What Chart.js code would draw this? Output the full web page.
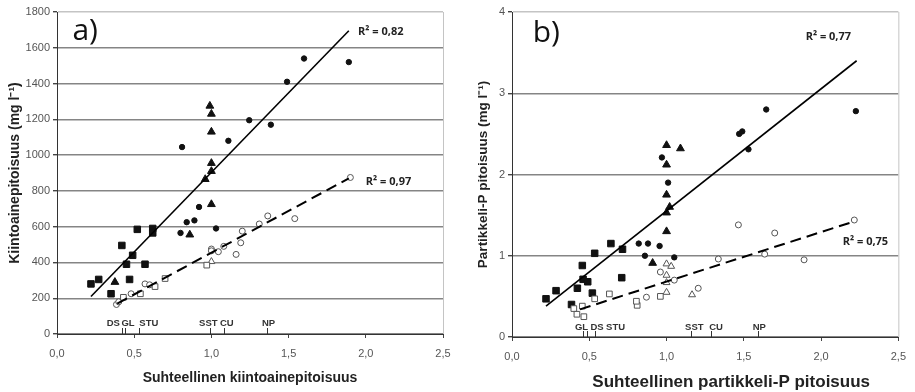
<!DOCTYPE html>
<html>
<head>
<meta charset="utf-8">
<script src="https://cdn.jsdelivr.net/npm/chart.js@4.4.0/dist/chart.umd.min.js"></script>
<style>
    body { margin: 0; background: #fff; }
    #wrap { position: relative; width: 915px; height: 392px; }
    .panel { position: absolute; top: 0; height: 392px; }
    #panelA { left: 0; width: 460px; }
    #panelB { left: 460px; width: 455px; }
</style>
</head>
<body>
<div id="wrap">
    <div class="panel" id="panelA"><canvas id="chartA"></canvas></div>
    <div class="panel" id="panelB"><canvas id="chartB"></canvas></div>
</div>
<script>
// ---- panel a) kiintoaine ----
const aSquareX = [0.22, 0.27, 0.35, 0.42, 0.45, 0.47, 0.49, 0.52, 0.57, 0.62, 0.62];
const aSquareY = [280, 305, 225, 495, 390, 305, 440, 585, 390, 590, 565];
const aTriX = [0.375, 0.86, 0.96, 1.00, 1.00, 1.00, 1.00, 0.99, 1.00];
const aTriY = [290, 555, 865, 910, 955, 1130, 1230, 1275, 725];
const aCircX = [0.80, 0.84, 0.89, 0.92, 1.03, 0.81, 1.11, 1.245, 1.385, 1.49, 1.60, 1.89];
const aCircY = [565, 625, 635, 710, 590, 1045, 1080, 1195, 1170, 1410, 1540, 1520];
const aOpenSquareX = [0.43, 0.54, 0.635, 0.70, 0.97];
const aOpenSquareY = [205, 225, 265, 310, 385];
const aOpenTriX = [1.00];
const aOpenTriY = [405];
const aOpenCircX = [0.385, 0.40, 0.48, 0.57, 0.60, 1.00, 1.00, 1.045, 1.08, 1.16, 1.19, 1.20, 1.31, 1.365, 1.54, 1.90];
const aOpenCircY = [165, 180, 225, 280, 275, 475, 465, 460, 490, 445, 510, 575, 615, 660, 645, 875];
const aTrendX = [0.22, 1.89];
const aTrendY = [210, 1695];
const aTrendOpenX = [0.39, 1.89];
const aTrendOpenY = [170, 870];
const aR2 = ['R² = 0,82', 'R² = 0,97'];
const aCatNames = ['DS', 'GL', 'STU', 'SST', 'CU', 'NP'];
const aCatTicks = [0.42, 0.44, 0.53, 0.99, 1.08, 1.36];
const aCatLabelX = [0.365, 0.46, 0.595, 0.98, 1.10, 1.37];

// ---- panel b) partikkeli-P ----
const bSquareX = [0.22, 0.285, 0.385, 0.423, 0.455, 0.46, 0.49, 0.52, 0.535, 0.64, 0.715, 0.71];
const bSquareY = [0.47, 0.57, 0.40, 0.60, 0.88, 0.71, 0.68, 0.54, 1.03, 1.15, 1.08, 0.73];
const bTriX = [0.91, 1.00, 1.00, 1.02, 1.00, 1.00, 1.00, 1.09];
const bTriY = [0.91, 1.30, 1.53, 1.60, 1.75, 2.12, 2.36, 2.32];
const bCircX = [0.82, 0.88, 0.86, 0.955, 1.05, 1.01, 0.97, 1.47, 1.49, 1.53, 1.645, 2.225];
const bCircY = [1.15, 1.15, 1.00, 1.12, 0.98, 1.90, 2.21, 2.50, 2.53, 2.31, 2.80, 2.78];
const bOpenSquareX = [0.40, 0.42, 0.465, 0.455, 0.535, 0.63, 0.81, 0.805, 0.96];
const bOpenSquareY = [0.35, 0.28, 0.25, 0.38, 0.47, 0.53, 0.39, 0.44, 0.50];
const bOpenTriX = [1.00, 1.03, 1.00, 1.00, 1.00, 1.165];
const bOpenTriY = [0.90, 0.87, 0.76, 0.67, 0.55, 0.52];
const bOpenCircX = [0.87, 0.96, 1.05, 1.205, 1.335, 1.465, 1.635, 1.70, 1.89, 2.215];
const bOpenCircY = [0.49, 0.80, 0.70, 0.60, 0.96, 1.38, 1.02, 1.28, 0.95, 1.44];
const bTrendX = [0.22, 2.23];
const bTrendY = [0.38, 3.40];
const bTrendOpenX = [0.44, 2.21];
const bTrendOpenY = [0.34, 1.42];
const bR2 = ['R² = 0,77', 'R² = 0,75'];
const bCatNames = ['GL', 'DS', 'STU', 'SST', 'CU', 'NP'];
const bCatTicks = [0.46, 0.485, 0.54, 1.16, 1.29, 1.59];
const bCatLabelX = [0.45, 0.55, 0.67, 1.18, 1.32, 1.60];

function zip(xs, ys) {
    return xs.map((x, i) => ({ x: x, y: ys[i] }));
}

const panelText = {
    id: 'panelText',
    afterDraw(chart, args, o) {
        const { ctx, chartArea } = chart;
        const xs = chart.scales.x, ys = chart.scales.y;
        ctx.save();

        // light frame on the right side
        ctx.strokeStyle = '#c4c4c4';
        ctx.lineWidth = 1;
        ctx.beginPath();
        ctx.moveTo(chartArea.right + 0.5, chartArea.top);
        ctx.lineTo(chartArea.right + 0.5, chartArea.bottom);
        ctx.stroke();

        // a) / b)
        ctx.fillStyle = '#111';
        ctx.font = '30px "Open Sans"';
        ctx.textAlign = 'left';
        ctx.textBaseline = 'middle';
        ctx.fillText(o.letter, xs.getPixelForValue(o.letterAt[0]), ys.getPixelForValue(o.letterAt[1]));

        // R² labels
        ctx.font = 'bold 11px "Open Sans"';
        ctx.fillStyle = '#222';
        o.r2.forEach((t, i) => {
            ctx.fillText(t, xs.getPixelForValue(o.r2At[i][0]), ys.getPixelForValue(o.r2At[i][1]));
        });

        // site labels with small ticks
        ctx.font = 'bold 9.5px "Liberation Sans"';
        ctx.fillStyle = '#333';
        ctx.textAlign = 'center';
        o.catNames.forEach((name, i) => {
            ctx.fillText(name, xs.getPixelForValue(o.catLabelX[i]), chartArea.bottom - o.catLabelUp);
        });
        ctx.strokeStyle = '#333';
        o.catTicks.forEach(v => {
            const px = Math.round(xs.getPixelForValue(v)) + 0.5;
            ctx.beginPath();
            ctx.moveTo(px, chartArea.bottom - 6);
            ctx.lineTo(px, chartArea.bottom);
            ctx.stroke();
        });

        // axis titles
        ctx.font = 'bold ' + o.titleSize + 'px "Liberation Sans"';
        ctx.fillStyle = '#222';
        ctx.fillText(o.xTitle, (chartArea.left + chartArea.right) / 2 + o.xTitleShift, o.xTitleY);
        ctx.translate(o.yTitleX, (chartArea.top + chartArea.bottom) / 2);
        ctx.rotate(-Math.PI / 2);
        ctx.font = 'bold ' + o.yTitleSize + 'px "Liberation Sans"';
        ctx.fillText(o.yTitle, 0, 0);
        ctx.restore();
    }
};

function createChart(canvasId, d) {
    const ctx = document.getElementById(canvasId).getContext('2d');
    const open = { backgroundColor: '#fff', borderColor: '#555', borderWidth: 1 };
    const filled = { backgroundColor: '#111', borderColor: '#111', borderWidth: 1 };

    return new Chart(ctx, {
        type: 'scatter',
        data: {
            datasets: [
                { data: d.trend, type: 'line', borderColor: '#000', borderWidth: 1.6, pointRadius: 0, fill: false },
                { data: d.trendOpen, type: 'line', borderColor: '#000', borderWidth: 2, borderDash: [11, 6], pointRadius: 0, fill: false },
                Object.assign({ data: d.openSquare, pointStyle: 'rect', pointRadius: 4 }, open),
                Object.assign({ data: d.openTri, pointStyle: 'triangle', pointRadius: 4 }, open),
                Object.assign({ data: d.openCirc, pointStyle: 'circle', pointRadius: 3 }, open),
                Object.assign({ data: d.square, pointStyle: 'rect', pointRadius: 4.6 }, filled),
                Object.assign({ data: d.tri, pointStyle: 'triangle', pointRadius: 4.5 }, filled),
                Object.assign({ data: d.circ, pointStyle: 'circle', pointRadius: 2.7 }, filled)
            ]
        },
        options: {
            responsive: true,
            maintainAspectRatio: false,
            animation: false,
            layout: { padding: { left: 0, right: d.padRight, top: 12, bottom: 0 } },
            plugins: {
                legend: { display: false },
                tooltip: { enabled: false },
                panelText: d.text
            },
            scales: {
                x: {
                    type: 'linear',
                    min: 0,
                    max: 2.5,
                    afterFit: s => { s.height = d.xAxisHeight; },
                    ticks: {
                        stepSize: 0.5,
                        padding: 9,
                        color: '#555',
                        font: { size: 11, family: 'Liberation Sans' },
                        callback: v => v.toFixed(1).replace('.', ',')
                    },
                    grid: { drawOnChartArea: false, tickLength: 4, tickColor: '#444' },
                    border: { color: '#333', width: 1 }
                },
                y: {
                    min: 0,
                    max: d.yMax,
                    afterFit: s => { s.width = d.yAxisWidth; },
                    ticks: {
                        stepSize: d.yStep,
                        padding: 3,
                        color: '#555',
                        font: { size: 11, family: 'Liberation Sans' },
                        callback: v => String(v)
                    },
                    grid: {
                        tickLength: 4,
                        tickColor: '#444',
                        lineWidth: 1.4,
                        color: c => (c.tick && c.tick.value === d.yMax) ? '#c4c4c4' : '#858585'
                    },
                    border: { color: '#333', width: 1 }
                }
            }
        },
        plugins: [panelText]
    });
}

document.addEventListener('DOMContentLoaded', function () {
    createChart('chartA', {
        trend: zip(aTrendX, aTrendY),
        trendOpen: zip(aTrendOpenX, aTrendOpenY),
        square: zip(aSquareX, aSquareY),
        tri: zip(aTriX, aTriY),
        circ: zip(aCircX, aCircY),
        openSquare: zip(aOpenSquareX, aOpenSquareY),
        openTri: zip(aOpenTriX, aOpenTriY),
        openCirc: zip(aOpenCircX, aOpenCircY),
        yMax: 1800,
        yStep: 200,
        yAxisWidth: 57,
        xAxisHeight: 58,
        padRight: 17,
        text: {
            letter: 'a)',
            letterAt: [0.10, 1694],
            r2: aR2,
            r2At: [[1.95, 1688], [2.0, 850]],
            catNames: aCatNames,
            catTicks: aCatTicks,
            catLabelX: aCatLabelX,
            catLabelUp: 11,
            xTitle: 'Suhteellinen kiintoainepitoisuus',
            xTitleShift: 0,
            xTitleY: 378,
            titleSize: 14,
            yTitle: 'Kiintoainepitoisuus (mg l⁻¹)',
            yTitleX: 15,
            yTitleSize: 14
        }
    });

    createChart('chartB', {
        trend: zip(bTrendX, bTrendY),
        trendOpen: zip(bTrendOpenX, bTrendOpenY),
        square: zip(bSquareX, bSquareY),
        tri: zip(bTriX, bTriY),
        circ: zip(bCircX, bCircY),
        openSquare: zip(bOpenSquareX, bOpenSquareY),
        openTri: zip(bOpenTriX, bOpenTriY),
        openCirc: zip(bOpenCircX, bOpenCircY),
        yMax: 4,
        yStep: 1,
        yAxisWidth: 52,
        xAxisHeight: 55,
        padRight: 11,
        text: {
            letter: 'b)',
            letterAt: [0.134, 3.74],
            r2: bR2,
            r2At: [[1.90, 3.69], [2.14, 1.17]],
            catNames: bCatNames,
            catTicks: bCatTicks,
            catLabelX: bCatLabelX,
            catLabelUp: 10,
            xTitle: 'Suhteellinen partikkeli-P pitoisuus',
            xTitleShift: 26,
            xTitleY: 382,
            titleSize: 17,
            yTitle: 'Partikkeli-P pitoisuus (mg l⁻¹)',
            yTitleX: 23,
            yTitleSize: 13.5
        }
    });
});
</script>
</body>
</html>
